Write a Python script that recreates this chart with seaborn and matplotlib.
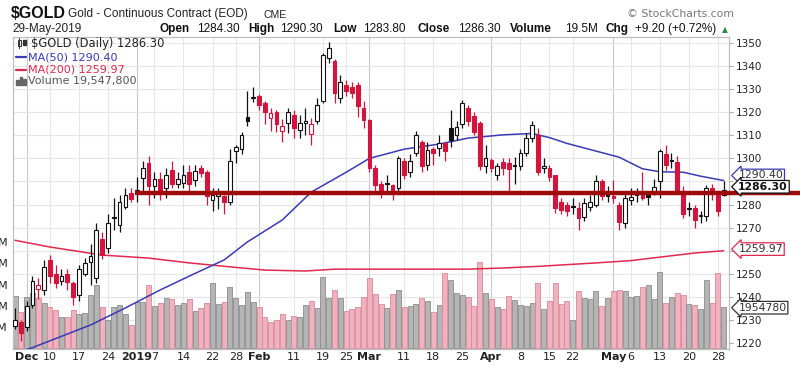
import matplotlib
matplotlib.use('Agg')
import matplotlib.pyplot as plt
from matplotlib.transforms import blended_transform_factory
from matplotlib.patches import Rectangle
from matplotlib.lines import Line2D
import seaborn as sns
import numpy as np
import pandas as pd

sns.set_theme(style='white')
plt.rcParams['font.family'] = ['DejaVu Sans']

# trading days shown on the chart
dates = pd.bdate_range('2018-11-29', '2019-05-29')
closed = pd.to_datetime(['2018-12-05', '2018-12-25', '2019-01-01', '2019-01-21',
                         '2019-02-18', '2019-04-19', '2019-05-27'])
dates = dates[~dates.isin(closed)]

opens = [1227.5, 1229, 1227, 1236.5, 1243.5, 1243, 1256, 1250, 1247, 1250,
         1246, 1241, 1250, 1255, 1248, 1265, 1261, 1274, 1271, 1279,
         1285, 1285, 1291.5, 1298, 1288, 1291, 1287, 1295, 1289, 1289.5,
         1294, 1290.5, 1296, 1294, 1282, 1283.5, 1283.5, 1281, 1303, 1304,
         1318, 1326, 1327, 1324, 1317.5, 1320, 1312, 1315.5, 1319, 1312.5,
         1315.5, 1310.5, 1316, 1325, 1343.5, 1342, 1326, 1332, 1331, 1332,
         1322, 1316.5, 1296, 1289, 1289.5, 1288.5, 1287, 1299, 1294, 1302.5,
         1307, 1297, 1304, 1304.5, 1306.5, 1313, 1310, 1315, 1322, 1318.5,
         1315.5, 1296.5, 1299.5, 1293, 1298.5, 1298, 1296.5, 1296.5, 1302.5, 1309,
         1310, 1296, 1296, 1293, 1281, 1280, 1279.5, 1278.5, 1274.5, 1279,
         1280, 1290, 1284, 1283.6, 1280, 1272, 1282, 1284, 1285.5, 1285,
         1285.5, 1290, 1302, 1299.5, 1298.5, 1286, 1278, 1278.5, 1275, 1275,
         1287, 1284, 1284.3]
highs = [1235, 1230, 1238, 1249, 1248, 1256, 1258, 1254, 1252, 1252,
         1247, 1254, 1257, 1263, 1272, 1268, 1276, 1283, 1284, 1287,
         1287, 1292, 1299, 1301, 1294, 1294, 1296, 1299, 1294, 1297,
         1297, 1297, 1297, 1295, 1287, 1287, 1284, 1304, 1306, 1311.5,
         1329, 1331, 1328, 1325, 1322, 1321, 1317, 1322, 1321, 1319,
         1322, 1317.5, 1326, 1345.5, 1350.5, 1343, 1336, 1334, 1333, 1333,
         1325, 1317, 1297, 1290, 1293, 1289, 1301, 1300, 1302, 1312,
         1308, 1307, 1305, 1310, 1307, 1321, 1316, 1325.5, 1323, 1320,
         1316, 1306, 1300, 1298, 1300, 1300, 1300.5, 1304, 1311, 1316,
         1313, 1300, 1297, 1293, 1283, 1281, 1283, 1281, 1283, 1284,
         1293, 1291, 1288, 1290.5, 1281, 1285, 1287, 1287, 1294, 1286,
         1291, 1304, 1306, 1302.5, 1301, 1288, 1281, 1280, 1277, 1288.5,
         1289, 1286, 1290.3]
lows = [1226, 1221, 1225, 1235, 1239, 1241, 1246, 1244, 1245, 1243,
        1236.5, 1238, 1249, 1245, 1246, 1256.5, 1259, 1269, 1268, 1278,
        1281, 1281, 1286, 1280, 1283, 1282, 1283, 1287, 1287, 1287,
        1286, 1288, 1292, 1280, 1277, 1278, 1276, 1280, 1298, 1302,
        1314, 1324.5, 1321, 1315, 1312, 1311.5, 1307, 1311, 1309, 1309,
        1310, 1306, 1315, 1324, 1341.5, 1324, 1324, 1327, 1326, 1318,
        1313, 1294, 1286, 1283, 1285, 1282, 1286, 1291, 1292, 1301,
        1294, 1295, 1297, 1301, 1299, 1305, 1308, 1313, 1314, 1310,
        1295, 1293.5, 1294, 1290.5, 1293, 1286, 1289, 1295, 1301, 1307,
        1293, 1293.6, 1290, 1276.5, 1276, 1275, 1276, 1269, 1273, 1277,
        1279, 1282, 1281, 1280.7, 1269, 1270, 1280, 1281, 1282, 1280,
        1284, 1283, 1295, 1295.8, 1285, 1274, 1275, 1270, 1272, 1273,
        1282, 1275, 1283.8]
closes = [1230, 1224.5, 1236, 1247, 1245, 1253, 1249, 1246, 1249, 1246.5,
          1240, 1252, 1254.5, 1257.5, 1269, 1258, 1272, 1274.5, 1281, 1284,
          1282.5, 1286.3, 1296, 1288, 1291, 1286, 1293, 1289, 1291, 1293,
          1289, 1294.5, 1293.5, 1283.5, 1284, 1284.5, 1281, 1299, 1305, 1310,
          1316, 1326.5, 1323, 1320, 1319.5, 1315, 1314, 1320, 1313, 1315.5,
          1316, 1315, 1323, 1345, 1348, 1328.5, 1333, 1329, 1328.5, 1322.5,
          1316.5, 1296, 1288.5, 1286.5, 1288.8, 1286.5, 1300, 1293, 1299, 1310,
          1296.5, 1303.5, 1302.5, 1306.5, 1303, 1308, 1313.5, 1324, 1316, 1311.5,
          1296.5, 1300, 1296, 1296.5, 1296, 1295.5, 1297, 1302.5, 1309, 1314.5,
          1294, 1296.5, 1292, 1278.5, 1277.5, 1277, 1279, 1274, 1280.5, 1281,
          1290, 1283.5, 1283.8, 1283, 1272.5, 1283, 1283.3, 1286, 1283, 1283.4,
          1287.5, 1303, 1297, 1299, 1285.5, 1276, 1278.5, 1273.5, 1275.5, 1287,
          1284.5, 1277.1, 1286.3]
# volume in millions
volume = [24.7, 17.3, 24.4, 26.0, 23.6, 21.3, 19.4, 18.1, 14.7, 15.0,
          18.1, 16.2, 16.6, 25.2, 29.9, 19.7, 13.4, 19.7, 20.5, 16.2,
          11.1, 22.0, 22.0, 29.9, 20.0, 21.6, 23.6, 23.1, 20.5, 21.3,
          23.1, 17.6, 18.9, 21.6, 31.0, 21.0, 22.0, 29.1, 23.6, 20.5,
          26.4, 22.0, 19.4, 15.0, 12.6, 13.4, 16.2, 13.4, 15.3, 14.7,
          20.5, 22.4, 19.2, 33.8, 23.9, 27.5, 23.9, 17.6, 18.4, 19.4,
          24.4, 33.0, 25.5, 21.0, 18.9, 25.5, 27.5, 19.4, 20.0, 21.0,
          23.9, 22.5, 17.3, 20.5, 35.4, 32.2, 26.0, 25.2, 24.4, 20.0,
          40.9, 26.0, 23.3, 19.4, 18.6, 24.9, 22.8, 20.5, 20.0, 21.6,
          31.0, 18.6, 22.4, 31.0, 21.0, 22.4, 13.4, 27.2, 23.6, 23.1,
          27.0, 20.0, 23.6, 27.0, 27.5, 27.0, 24.4, 24.7, 29.1, 29.9,
          23.1, 36.1, 21.6, 24.4, 26.0, 25.2, 21.0, 20.5, 18.6, 32.2,
          21.6, 35.4, 19.55]

# moving averages read at selected days (day index, value)
ma50_day = [0, 3, 13, 19, 25, 30, 36, 40, 46, 51, 57, 61, 67, 73, 78, 84, 89, 92,
            95, 101, 104, 108, 111, 115, 118, 122]
ma50_val = [1215.5, 1218, 1227.8, 1235.2, 1243, 1249, 1256, 1263.8, 1273.3, 1285.4,
            1294, 1300, 1304, 1306.2, 1308.8, 1310.2, 1310.8, 1309, 1306.5, 1302.5,
            1300.5, 1295.5, 1294.2, 1294, 1292.3, 1290.4]
ma200_day = [0, 6, 15, 23, 30, 37, 43, 50, 55, 66, 78, 84, 90, 100, 106, 112, 117, 122]
ma200_val = [1264.5, 1261.6, 1258.1, 1256.8, 1254.7, 1253, 1251.6, 1251.2, 1252,
             1252, 1252, 1252.5, 1253.2, 1254.7, 1255.7, 1257.5, 1259, 1259.97]

tick_dates = ['2018-12-03', '2018-12-10', '2018-12-17', '2018-12-24', '2019-01-02',
              '2019-01-07', '2019-01-14', '2019-01-22', '2019-01-28', '2019-02-01',
              '2019-02-11', '2019-02-19', '2019-02-25', '2019-03-01', '2019-03-11',
              '2019-03-18', '2019-03-25', '2019-04-01', '2019-04-08', '2019-04-15',
              '2019-04-22', '2019-05-01', '2019-05-06', '2019-05-13', '2019-05-20',
              '2019-05-28']
tick_labels = ['Dec', '10', '17', '24', '2019', '7', '14', '22', '28', 'Feb', '11', '19',
               '25', 'Mar', '11', '18', '25', 'Apr', '8', '15', '22', 'May', '6', '13',
               '20', '28']
bold_labels = {'Dec', '2019', 'Feb', 'Mar', 'Apr', 'May'}

support = 1284.8

RED = '#d3143c'
BLUE = '#3a3ab4'
MARED = '#e0294f'

n = len(closes)
x = np.arange(n)
o = np.array(opens); h = np.array(highs); l = np.array(lows); c = np.array(closes)
prev = np.r_[c[0] - 1, c[:-1]]
up_day = c >= prev
hollow = c > o
line_col = np.where(up_day, '#111111', RED)
face_col = np.where(hollow, 'white', line_col)
vol_face = np.where(up_day, '#b5b5b5', '#f0b2bf')
vol_edge = np.where(up_day, '#8c8c8c', '#d9899b')

fig = plt.figure(figsize=(8, 3.72), dpi=100)
W, H = 800, 372
L0, R0, T0, B0 = 12.7, 729, 37, 349
ax = fig.add_axes([L0 / W, 1 - B0 / H, (R0 - L0) / W, (B0 - T0) / H])
axp = ax.twinx()

# grid
tick_pos = [dates.get_loc(pd.Timestamp(d)) for d in tick_dates]
for p, lab in zip(tick_pos, tick_labels):
    ax.axvline(p, color='#c9c9c9' if lab in bold_labels else '#e6e6e6', lw=0.8, zorder=0.5)
hline = blended_transform_factory(ax.transAxes, axp.transData)
for pv in range(1220, 1351, 10):
    ax.plot([0, 1], [pv, pv], transform=hline, color='#e6e6e6', lw=0.8, zorder=0.5)

# volume
ax.bar(x, volume, width=0.86, color=vol_face, edgecolor=vol_edge, linewidth=0.6, zorder=2)
ax.set_ylim(-0.24, 146.6)
ax.set_yticks([10, 20, 30, 40, 50])
ax.set_yticklabels(['10M', '20M', '30M', '40M', '50M'], fontsize=8, color='#222222')
ax.tick_params(axis='y', length=0, pad=3.5)

# moving averages
sns.lineplot(x=ma200_day, y=ma200_val, ax=axp, color=MARED, lw=1.1, zorder=3)
sns.lineplot(x=ma50_day, y=ma50_val, ax=axp, color=BLUE, lw=1.1, zorder=3)

# candles
axp.vlines(x, l, h, colors=line_col, lw=0.9, zorder=4)
body_lo = np.minimum(o, c)
body_h = np.maximum(np.abs(c - o), 0.35)
axp.bar(x, body_h, bottom=body_lo, width=0.64, color=face_col, edgecolor=line_col,
        linewidth=0.8, zorder=5)

# support line
axp.plot([20.7, 140], [support, support], color='#9c0a0c', lw=3.2, zorder=6,
         clip_on=False, solid_capstyle='butt')

axp.set_ylim(1217.4, 1352.6)
ax.set_xlim(-0.4, 122.9)
axp.set_yticks(range(1220, 1351, 10))
axp.set_yticklabels(['' if v in (1260, 1290) else str(v) for v in range(1220, 1351, 10)],
                    fontsize=7.5, color='#222222')
axp.tick_params(axis='y', length=3, width=0.6, color='#999999', pad=2)
axp.set_ylabel('')
ax.set_ylabel('')
ax.set_xticks(tick_pos)
ax.set_xticklabels(tick_labels, fontsize=8, color='#222222')
for t in ax.get_xticklabels():
    if t.get_text() in bold_labels:
        t.set_fontweight('bold')
ax.tick_params(axis='x', length=0, pad=2.5)
axp.tick_params(axis='x', length=0)
for a in (ax, axp):
    for s in a.spines.values():
        s.set_color('#bdbdbd')
        s.set_linewidth(0.8)
axp.patch.set_visible(False)

# value tags on the right
tag_tr = blended_transform_factory(axp.transAxes, axp.transData)
tags = [(1292.6, '1290.40', BLUE, 'normal', '#333333'),
        (1287.7, '1286.30', '#111111', 'bold', '#111111'),
        (1260.7, '1259.97', MARED, 'normal', '#333333'),
        (1235.3, '1954780', '#333333', 'normal', '#333333')]
for yv, txt, ec, fw, tc in tags:
    axp.text(1.013, yv, txt, transform=tag_tr, fontsize=7.8, fontweight=fw, color=tc,
             va='center', ha='left', zorder=10, clip_on=False,
             bbox=dict(boxstyle='larrow,pad=0.12', fc='white', ec=ec, lw=0.9))

# header
def ftext(px, py, s, **kw):
    fig.text(px / W, 1 - py / H, s, va='center', ha='left', **kw)

hfam = ['Liberation Sans', 'DejaVu Sans']
ftext(11, 14, '$GOLD', fontsize=11.5, fontweight='bold', family=hfam, color='#111111')
ftext(68, 14, 'Gold - Continuous Contract (EOD)', fontsize=8.5, family=hfam, color='#222222')
ftext(264, 15, 'CME', fontsize=7.5, family=hfam, color='#222222')
ftext(627, 14, '\u00a9 StockCharts.com', fontsize=7.8, color='#777777')
ftext(12, 29, '29-May-2019', fontsize=8.5, family=hfam, color='#222222')
pieces = [(159, 'Open', 'bold'), (197, '1284.30', 'normal'), (248, 'High', 'bold'),
          (280, '1290.30', 'normal'), (333, 'Low', 'bold'), (363, '1283.80', 'normal'),
          (417, 'Close', 'bold'), (458, '1286.30', 'normal'), (510, 'Volume', 'bold'),
          (565, '19.5M', 'normal'), (606, 'Chg', 'bold'), (635, '+9.20 (+0.72%)', 'normal')]
for px, s, fw in pieces:
    ftext(px, 29, s, fontsize=8.5, fontweight=fw, family=hfam, color='#111111')
ftext(722, 29.5, '\u25b2', fontsize=5.5, color='#2e8b3a')

# legend inside the chart
ftext(31, 43, '$GOLD (Daily) 1286.30', fontsize=8.3, color='#222222')
ftext(28, 57, 'MA(50) 1290.40', fontsize=8, color=BLUE)
ftext(28, 69.5, 'MA(200) 1259.97', fontsize=8, color=MARED)
ftext(28, 81, 'Volume 19,547,800', fontsize=8, color='#555555')
for yy, col in [(57, BLUE), (69.5, MARED)]:
    fig.add_artist(Line2D([16 / W, 26 / W], [1 - yy / H, 1 - yy / H], color=col, lw=1.6,
                          transform=fig.transFigure))
for bx, bh in [(16, 5), (19.5, 8), (23, 6)]:
    fig.add_artist(Rectangle((bx / W, 1 - 85 / H), 2.5 / W, bh / H, color='#666666',
                             transform=fig.transFigure))
# tiny candle icon
fig.add_artist(Line2D([19 / W, 19 / W], [1 - 48 / H, 1 - 38 / H], color='#333333', lw=0.8,
                      transform=fig.transFigure))
fig.add_artist(Rectangle((17.5 / W, 1 - 46 / H), 3 / W, 6 / H, fc='white', ec='#333333',
                         lw=0.7, transform=fig.transFigure))
fig.add_artist(Rectangle((23 / W, 1 - 45 / H), 3 / W, 5 / H, color='#333333',
                         transform=fig.transFigure))

fig.savefig('out.png', dpi=100, facecolor='white')
